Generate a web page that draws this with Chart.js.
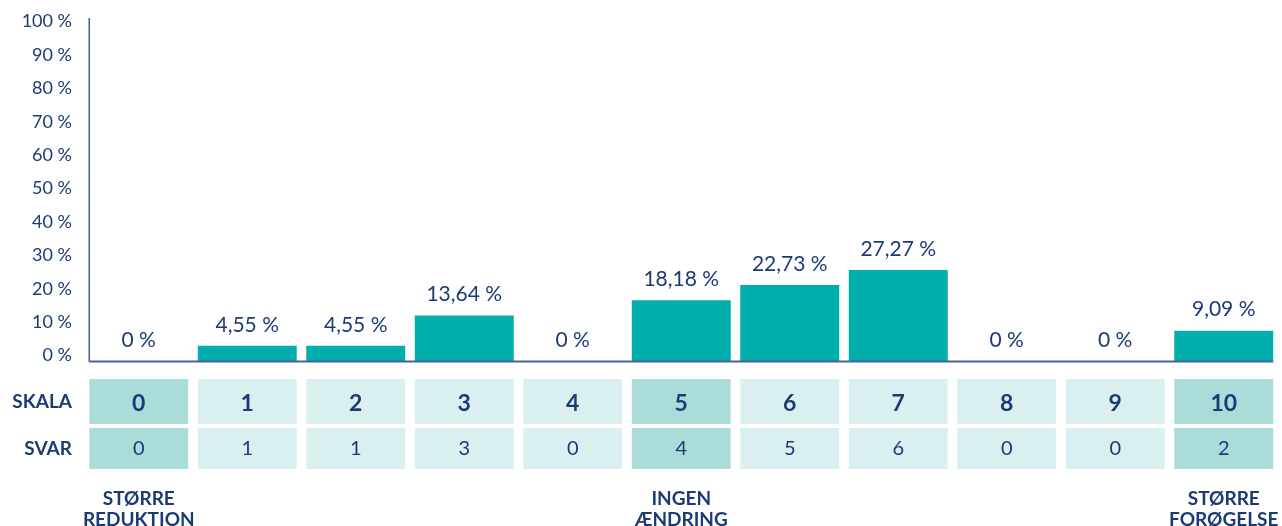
<!DOCTYPE html>
<html>
<head>
<meta charset="utf-8">
<script src="https://cdn.jsdelivr.net/npm/chart.js@4.4.1/dist/chart.umd.min.js"></script>
<style>
  html, body { margin: 0; padding: 0; background: #ffffff; }
  #wrap { width: 1282px; height: 526px; position: relative; }
</style>
</head>
<body>
<div id="wrap"><canvas id="c" width="1282" height="526"></canvas></div>
<script>
const categories = ['0', '1', '2', '3', '4', '5', '6', '7', '8', '9', '10'];
const percentValues = [0, 4.55, 4.55, 13.64, 0, 18.18, 22.73, 27.27, 0, 0, 9.09];
const responseCounts = [0, 1, 1, 3, 0, 4, 5, 6, 0, 0, 2];
const highlightedCategories = ['0', '5', '10'];
const anchorCategories = ['0', '5', '10'];
const anchorTexts = [['STØRRE', 'REDUKTION'], ['INGEN', 'ÆNDRING'], ['STØRRE', 'FORØGELSE']];
const rowLabels = ['SKALA', 'SVAR'];
const yTickValues = [0, 10, 20, 30, 40, 50, 60, 70, 80, 90, 100];

const NAVY = '#1c3b74';
const AXIS = '#4a6394';
const TEAL = '#00aeac';
const CELL_LIGHT = '#daeff0';
const CELL_DARK = '#aaddda';
const FONT = 'Lato, "Open Sans", sans-serif';

function fmtPct(v) { return String(v).replace('.', ',') + ' %'; }

const overlayPlugin = {
  id: 'overlay',
  afterDatasetsDraw(chart) {
    const ctx = chart.ctx;
    const area = chart.chartArea;
    const meta = chart.getDatasetMeta(0);
    const bars = meta.data;
    const yScale = chart.scales.y;
    const baseY = yScale.getPixelForValue(0);
    const firstLeft = bars[0].x - bars[0].width / 2;
    const last = bars[bars.length - 1];
    const lastRight = last.x + last.width / 2;

    ctx.save();
    // value labels
    ctx.fillStyle = NAVY;
    ctx.font = '21px ' + FONT;
    ctx.textAlign = 'center';
    ctx.textBaseline = 'middle';
    bars.forEach((b, i) => {
      const top = yScale.getPixelForValue(percentValues[i]);
      ctx.fillText(fmtPct(percentValues[i]), b.x, top - 21);
    });

    // baseline
    ctx.strokeStyle = AXIS;
    ctx.lineWidth = 2;
    ctx.beginPath();
    ctx.moveTo(firstLeft, baseY + 0.5);
    ctx.lineTo(lastRight, baseY + 0.5);
    ctx.stroke();

    // y axis line
    ctx.lineWidth = 1.6;
    ctx.beginPath();
    ctx.moveTo(firstLeft, area.top - 9);
    ctx.lineTo(firstLeft, baseY + 1);
    ctx.stroke();

    // table cells
    const row1Top = baseY + 18, row1H = 45;
    const row2Top = row1Top + row1H + 4, row2H = 41;
    bars.forEach((b, i) => {
      const left = b.x - b.width / 2;
      const hl = highlightedCategories.includes(categories[i]);
      ctx.fillStyle = hl ? CELL_DARK : CELL_LIGHT;
      ctx.fillRect(left, row1Top, b.width, row1H);
      ctx.fillRect(left, row2Top, b.width, row2H);
      ctx.fillStyle = NAVY;
      ctx.font = 'bold 23px ' + FONT;
      ctx.fillText(categories[i], b.x, row1Top + row1H / 2 + 2);
      ctx.font = '20px ' + FONT;
      ctx.fillText(String(responseCounts[i]), b.x, row2Top + row2H / 2);
    });

    // row labels
    ctx.textAlign = 'right';
    ctx.font = 'bold 19px ' + FONT;
    ctx.fillText(rowLabels[0], 72, row1Top + row1H / 2);
    ctx.fillText(rowLabels[1], 72, row2Top + row2H / 2);

    // anchor labels
    ctx.textAlign = 'center';
    ctx.font = 'bold 19px ' + FONT;
    anchorCategories.forEach((cat, k) => {
      const idx = categories.indexOf(cat);
      const b = bars[idx];
      anchorTexts[k].forEach((line, j) => {
        ctx.fillText(line, b.x, baseY + 138 + j * 21);
      });
    });
    ctx.restore();
  }
};

new Chart(document.getElementById('c'), {
  type: 'bar',
  data: {
    labels: categories,
    datasets: [{
      data: percentValues,
      backgroundColor: TEAL,
      borderWidth: 0,
      barPercentage: 0.912,
      categoryPercentage: 1
    }]
  },
  options: {
    responsive: false,
    animation: false,
    events: [],
    layout: { padding: { top: 27, bottom: 165, left: 0, right: 4 } },
    plugins: { legend: { display: false }, tooltip: { enabled: false } },
    scales: {
      x: { display: false },
      y: {
        min: 0,
        max: 100,
        afterFit(scale) { scale.width = 84.5; },
        afterBuildTicks(scale) { scale.ticks = yTickValues.map(v => ({ value: v })); },
        grid: { display: false, drawTicks: false },
        border: { display: false },
        ticks: {
          padding: 12.5,
          labelOffset: -5.5,
          color: NAVY,
          font: { family: FONT, size: 18 },
          callback: (v) => v + ' %'
        }
      }
    }
  },
  plugins: [overlayPlugin]
});
</script>
</body>
</html>
